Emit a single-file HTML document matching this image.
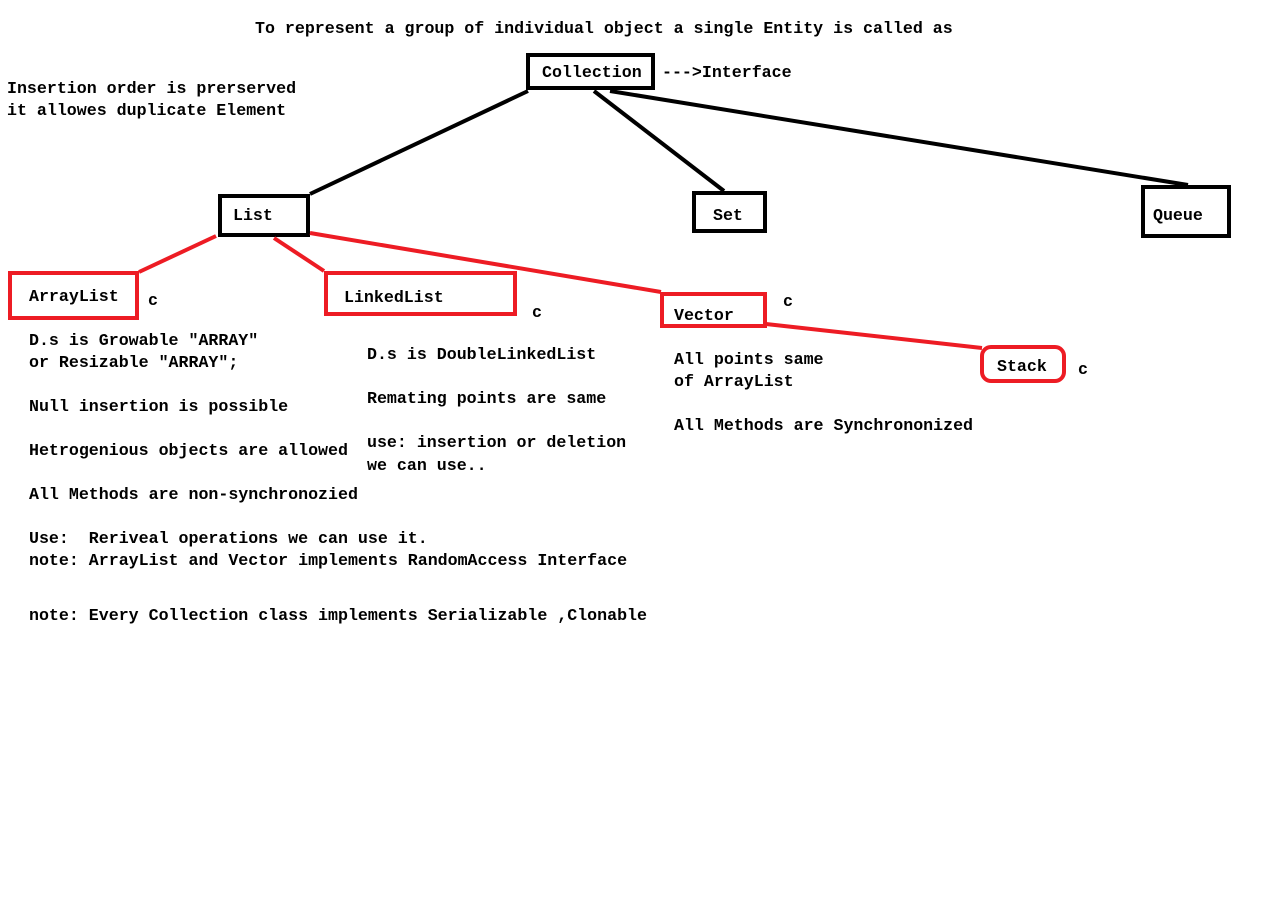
<!DOCTYPE html>
<html><head><style>
html,body{margin:0;padding:0;background:#fff;}
svg text{font-family:"Liberation Mono",monospace;font-weight:bold;font-size:16.62px;fill:#000;}
</style></head><body>
<svg width="1286" height="897" xmlns="http://www.w3.org/2000/svg">
<g stroke="#000" stroke-width="4" fill="none">
<line x1="528" y1="91" x2="310" y2="194"/>
<line x1="594" y1="91" x2="724" y2="191"/>
<line x1="610" y1="91" x2="1188" y2="185"/>
<rect x="528" y="55" width="125" height="33"/>
<rect x="220" y="196" width="88" height="39"/>
<rect x="694" y="193" width="71" height="38"/>
<rect x="1143" y="187" width="86" height="49"/>
</g>
<g stroke="#ed1c24" stroke-width="4" fill="none">
<line x1="216" y1="236" x2="139" y2="272"/>
<line x1="274" y1="238" x2="324" y2="271"/>
<line x1="310" y1="233" x2="661" y2="292"/>
<line x1="766" y1="324" x2="982" y2="348"/>
<rect x="10" y="273" width="127" height="45"/>
<rect x="326" y="273" width="189" height="41"/>
<rect x="662" y="294" width="103" height="32"/>
<rect x="982" y="347" width="82" height="34" rx="9"/>
</g>
<g transform="translate(0,1)">
<text x="255" y="32">To represent a group of individual object a single Entity is called as</text>
<text x="542" y="76">Collection</text>
<text x="662" y="76">---&gt;Interface</text>
<text x="7" y="92">Insertion order is prerserved</text>
<text x="7" y="114">it allowes duplicate Element</text>
<text x="233" y="219">List</text>
<text x="713" y="219">Set</text>
<text x="1153" y="219">Queue</text>
<text x="29" y="300">ArrayList</text>
<text x="148" y="304">c</text>
<text x="344" y="301">LinkedList</text>
<text x="532" y="316">c</text>
<text x="674" y="319">Vector</text>
<text x="783" y="305">c</text>
<text x="997" y="370">Stack</text>
<text x="1078" y="373">c</text>
<text x="29" y="344">D.s is Growable "ARRAY"</text>
<text x="29" y="366">or Resizable "ARRAY";</text>
<text x="29" y="410">Null insertion is possible</text>
<text x="29" y="454">Hetrogenious objects are allowed</text>
<text x="29" y="498">All Methods are non-synchronozied</text>
<text x="29" y="542" xml:space="preserve">Use:  Reriveal operations we can use it.</text>
<text x="29" y="564">note: ArrayList and Vector implements RandomAccess Interface</text>
<text x="29" y="619">note: Every Collection class implements Serializable ,Clonable</text>
<text x="367" y="358">D.s is DoubleLinkedList</text>
<text x="367" y="402">Remating points are same</text>
<text x="367" y="446">use: insertion or deletion</text>
<text x="367" y="469">we can use..</text>
<text x="674" y="363">All points same</text>
<text x="674" y="385">of ArrayList</text>
<text x="674" y="429">All Methods are Synchrononized</text>
</g>
</svg>
</body></html>
